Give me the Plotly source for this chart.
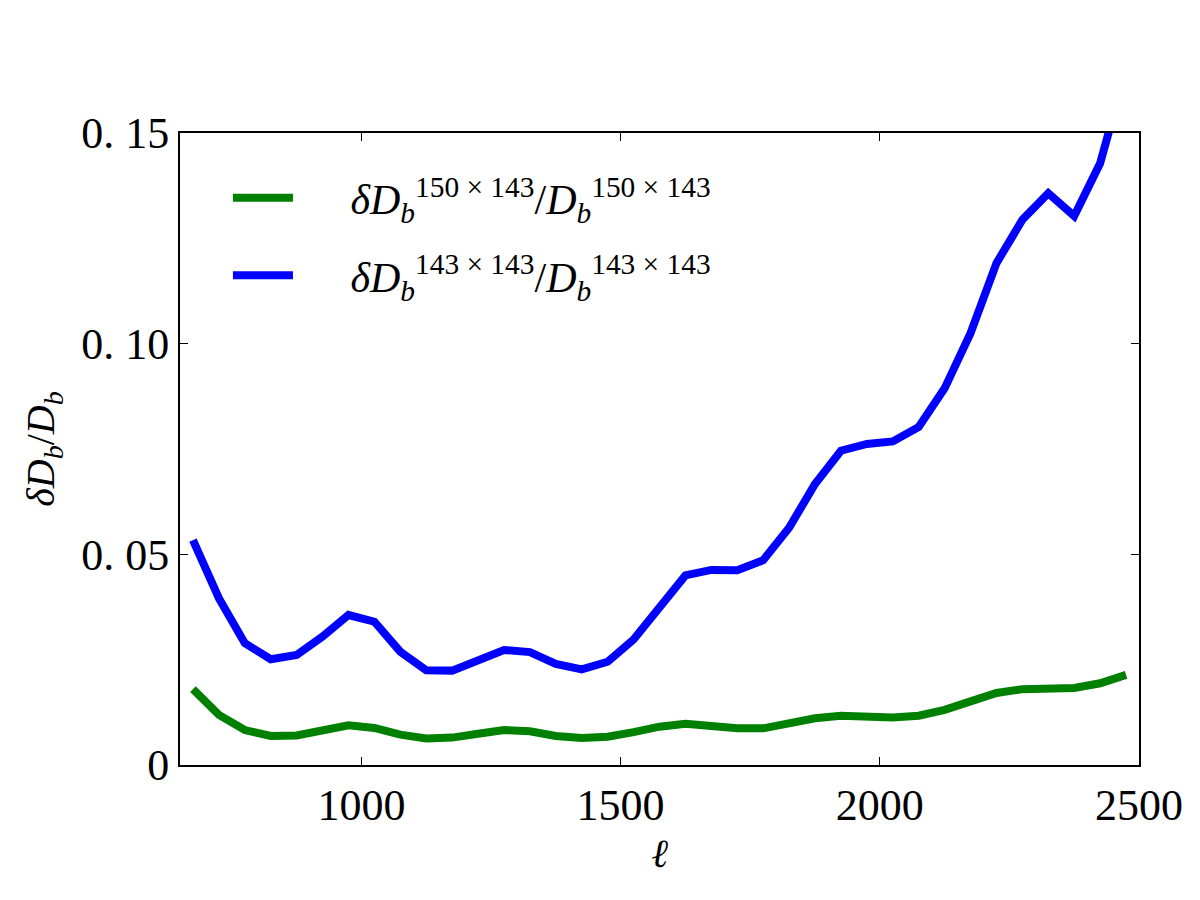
import plotly.graph_objects as go

ell = [675 + 50 * i for i in range(37)]

green = [0.0180, 0.0119, 0.0083, 0.0069, 0.0070, 0.0083, 0.0094, 0.0088, 0.0072, 0.0063,
         0.0065, 0.0074, 0.0083, 0.0080, 0.0069, 0.0064, 0.0067, 0.0078, 0.0091, 0.0098,
         0.0091, 0.0087, 0.0087, 0.0099, 0.0111, 0.0117, 0.0115, 0.0113, 0.0117, 0.0131,
         0.0151, 0.0171, 0.0180, 0.0181, 0.0183, 0.0194, 0.0214]

blue = [0.0534, 0.0396, 0.0289, 0.0251, 0.0261, 0.0305, 0.0356, 0.0340, 0.0269, 0.0225,
        0.0224, 0.0248, 0.0273, 0.0268, 0.0240, 0.0227, 0.0245, 0.0298, 0.0377, 0.0450,
        0.0463, 0.0462, 0.0486, 0.0563, 0.0667, 0.0746, 0.0762, 0.0768, 0.0802, 0.0894,
        0.1025, 0.1191, 0.1294, 0.1357, 0.1303, 0.1428, 0.1650]

x_ticks = [1000, 1500, 2000, 2500]
x_tick_labels = ["1000", "1500", "2000", "2500"]
y_ticks = [0, 0.05, 0.10, 0.15]
y_tick_labels = ["0", "0. 05", "0. 10", "0. 15"]

PAD = "&nbsp;" * 5
name_green = PAD + "<i>δD</i><sub><i>b</i></sub><sup>150 × 143</sup>/<i>D</i><sub><i>b</i></sub><sup>150 × 143</sup>"
name_blue = PAD + "<i>δD</i><sub><i>b</i></sub><sup>143 × 143</sup>/<i>D</i><sub><i>b</i></sub><sup>143 × 143</sup>"

FONT = "Liberation Serif"

fig = go.Figure()
fig.add_trace(go.Scatter(x=ell, y=green, mode="lines", name=name_green, legendgroup="g1",
                         line=dict(color="#008000", width=8)))
fig.add_trace(go.Scatter(x=ell, y=blue, mode="lines", name=name_blue, legendgroup="g2",
                         line=dict(color="#0000ff", width=8)))

fig.update_layout(
    width=1200, height=900,
    margin=dict(l=180, r=61, t=133, b=135),
    paper_bgcolor="white", plot_bgcolor="white",
    font=dict(family=FONT, size=44, color="black"),
    legend=dict(x=0.05, y=0.951, xanchor="left", yanchor="top",
                bgcolor="rgba(0,0,0,0)", font=dict(size=42, family=FONT),
                itemwidth=60, traceorder="grouped", tracegroupgap=20),
    showlegend=True,
)
fig.update_xaxes(
    range=[650, 2500], tickvals=x_ticks, ticktext=x_tick_labels,
    ticks="inside", ticklen=8, tickwidth=1, tickcolor="black",
    showline=True, linecolor="black", linewidth=2, mirror="allticks",
    showgrid=False, zeroline=False,
    tickfont=dict(size=44, family=FONT),
    title=dict(text="<i>ℓ</i>", font=dict(size=40, family=FONT), standoff=10),
)
fig.update_yaxes(
    range=[0, 0.15], tickvals=y_ticks, ticktext=y_tick_labels,
    ticks="inside", ticklen=8, tickwidth=1, tickcolor="black",
    showline=True, linecolor="black", linewidth=2, mirror="allticks",
    showgrid=False, zeroline=False,
    tickfont=dict(size=44, family=FONT),
    title=dict(text="<i>δD</i><sub><i>b</i></sub>/<i>D</i><sub><i>b</i></sub>",
               font=dict(size=40, family=FONT), standoff=14),
)

fig.write_html("out.html")
